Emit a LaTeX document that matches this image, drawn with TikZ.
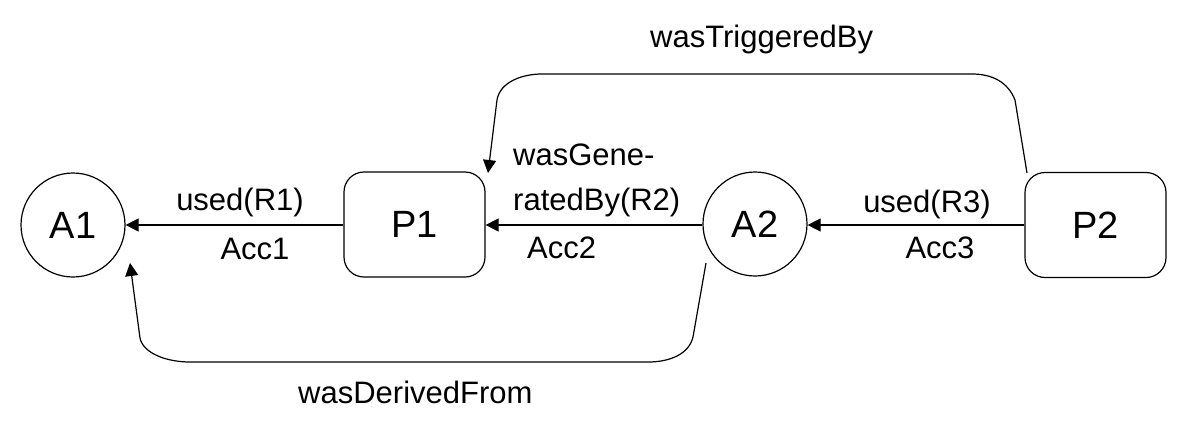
\documentclass[tikz,border=0pt]{standalone}
\usepackage{fontspec}
\setmainfont{Liberation Sans}
\usetikzlibrary{arrows.meta}
\tikzset{
  conn/.style={line width=1.2pt, -{Triangle[length=13pt,width=13pt]}},
  shapeline/.style={draw, line width=1.2pt, inner sep=0pt},
  artifact/.style={shapeline, circle, minimum size=104pt, font=\fontsize{38}{44}\selectfont},
  process/.style={shapeline, rectangle, rounded corners=20pt, minimum width=141pt, minimum height=105pt, font=\fontsize{38}{44}\selectfont},
  lbl/.style={inner sep=0pt, font=\fontsize{31}{36}\selectfont}
}
\begin{document}
\begin{tikzpicture}[x=1pt,y=-1pt]
\useasboundingbox (0,0) rectangle (1187,424);
\node[artifact] (A1) at (73,225) {A1};
\node[process] (P1) at (414.5,224.5) {P1};
\node[artifact] (A2) at (755,224) {A2};
\node[process] (P2) at (1095.5,225) {P2};

\draw[conn] (P1.west |- 0,225) -- (A1.east |- 0,225);
\draw[conn] (A2.west |- 0,225) -- (P1.east |- 0,225);
\draw[conn] (P2.west |- 0,225) -- (A2.east |- 0,225);

\coordinate (trS) at (1027,173);
\coordinate (trE) at (488,173);
\draw[conn] (trS) -- (1015,100) .. controls (1008,82) and (992,74) .. (972,74)
  -- (542,74) .. controls (522,74) and (500,82) .. (497,100) -- (trE);

\coordinate (dfS) at (706,263);
\coordinate (dfE) at (130,263);
\draw[conn] (dfS) -- (693,337) .. controls (689,354) and (670,362) .. (648,362)
  -- (190,362) .. controls (166,362) and (143,353) .. (140,338) -- (dfE);

\node[lbl, anchor=base] (u1) at (240,210) {used(R1)};
\node[lbl, anchor=base] (acc1) at (255,259) {Acc1};
\node[lbl, anchor=base west] (gen1) at (513,165) {wasGene-};
\node[lbl, anchor=base west] (gen2) at (513,210) {ratedBy(R2)};
\node[lbl, anchor=base west] (acc2) at (527,258) {Acc2};
\node[lbl, anchor=base] (u3) at (927,212) {used(R3)};
\node[lbl, anchor=base] (acc3) at (940,258) {Acc3};
\node[lbl, anchor=base west] (trig) at (650,47) {wasTriggeredBy};
\node[lbl, anchor=base west] (der) at (298,403) {wasDerivedFrom};
\end{tikzpicture}
\end{document}
